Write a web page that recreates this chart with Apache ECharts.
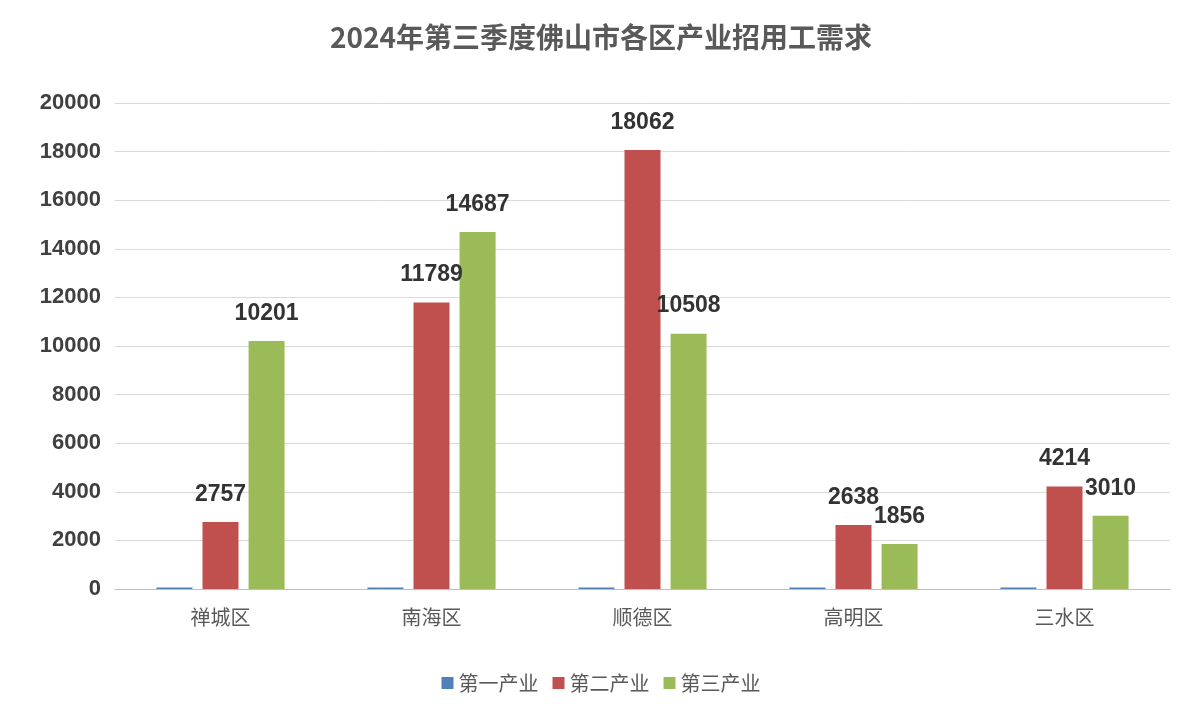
<!DOCTYPE html>
<html><head><meta charset="utf-8">
<script src="https://cdn.jsdelivr.net/npm/echarts@6/dist/echarts.min.js"></script>
<style>html,body{margin:0;padding:0;background:#fff}#c{width:1202px;height:724px}</style>
</head><body><div id="c"></div>
<script>
const categories = ['禅城区','南海区','顺德区','高明区','三水区'];
const primary = [60, 60, 60, 60, 60];
const secondary = [2757, 11789, 18062, 2638, 4214];
const tertiary = [10201, 14687, 10508, 1856, 3010];
const seriesNames = ['第一产业','第二产业','第三产业'];
const chart = echarts.init(document.getElementById('c'));
const lbl = {show:true, position:'top', distance:16, fontSize:23, fontWeight:'bold', color:'#333', fontFamily:'Liberation Sans, Arial'};
chart.setOption({
  animation:false,
  title:{text:'2024年第三季度佛山市各区产业招用工需求', left:'center', top:18,
    textStyle:{fontSize:28, fontWeight:'bold', color:'#595959', fontFamily:'Noto Sans CJK SC'}},
  legend:{bottom:26, itemWidth:12, itemHeight:12, itemGap:14, icon:'rect',
    textStyle:{fontSize:20, color:'#595959', fontFamily:'Noto Sans CJK SC'}},
  grid:{left:115, right:32, top:103, bottom:135},
  xAxis:{type:'category', data:categories,
    axisLine:{lineStyle:{color:'#bfbfbf'}}, axisTick:{show:false},
    axisLabel:{fontSize:20, color:'#595959', margin:18, fontFamily:'Noto Sans CJK SC'}},
  yAxis:{type:'value', min:0, max:20000, interval:2000,
    axisLabel:{fontSize:22, fontWeight:'bold', color:'#404040', margin:14, fontFamily:'Liberation Sans, Arial', formatter:v=>String(v)},
    splitLine:{lineStyle:{color:'#d9d9d9'}}},
  series:[
    {name:seriesNames[0], type:'bar', data:primary, barWidth:36, barGap:'28%', itemStyle:{color:'#4f81bd'}},
    {name:seriesNames[1], type:'bar', data:secondary, barWidth:36, barGap:'28%', itemStyle:{color:'#c0504d'}, label:lbl},
    {name:seriesNames[2], type:'bar', data:tertiary, barWidth:36, barGap:'28%', itemStyle:{color:'#9bbb59'}, label:lbl}
  ]
});
</script></body></html>
